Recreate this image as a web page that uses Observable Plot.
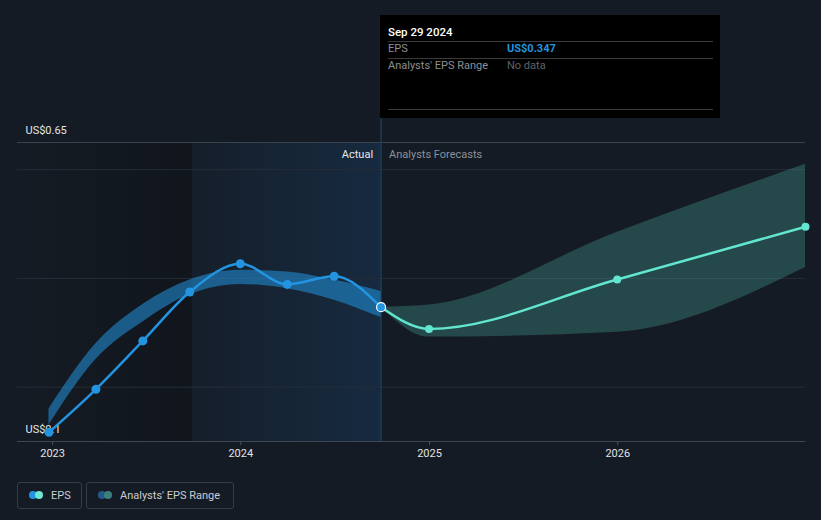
<!DOCTYPE html>
<html>
<head>
<meta charset="utf-8">
<script src="https://cdn.jsdelivr.net/npm/d3@7"></script>
<script src="https://cdn.jsdelivr.net/npm/@observablehq/plot@0.6"></script>
<style>
html,body{margin:0;padding:0;background:#151b24;}
body{width:821px;height:520px;overflow:hidden;font-family:Roboto,"Open Sans",sans-serif;}
#wrap{position:relative;width:821px;height:520px;}
#chart svg{display:block;}
#tip{position:absolute;left:380px;top:15px;width:340px;height:103px;background:#000;font-size:11px;}
#tip .row{position:absolute;left:8px;right:7px;height:14px;line-height:14px;white-space:nowrap;}
#tip .sep{position:absolute;left:8px;right:7px;height:1px;background:#3a3a3a;}
#tip .lab{position:absolute;left:0;color:#8c8f94;}
#tip .val{position:absolute;left:119px;}
.legend{position:absolute;top:482px;height:25px;border:1px solid #353c48;border-radius:3px;font-size:11px;color:#c9ccd1;}
.legend .dot{position:absolute;top:8px;width:8px;height:8px;border-radius:50%;}
.legend .txt{position:absolute;top:0;line-height:25px;white-space:nowrap;}
</style>
</head>
<body>
<div id="wrap">
  <div id="chart"></div>
  <div id="tip"></div>
  <div id="legend"></div>
</div>
<script>
// ---- data ----
const domainStart = "2022-10-25";
const domainEnd = "2026-12-31";
const yDomain = [0.1, 0.65];
const gridValues = [0.2, 0.4, 0.6];
const yLabelValues = [0.65, 0.1];
const yLabelTexts = ["US$0.65", "US$0.1"];
const xTickDates = ["2023-01-01", "2024-01-01", "2025-01-01", "2026-01-01"];

const actualDates = ["2022-12-25","2023-03-26","2023-06-25","2023-09-24","2023-12-31","2024-03-31","2024-06-30","2024-09-29"];
const actualEPS = [0.117, 0.196, 0.285, 0.375, 0.427, 0.389, 0.404, 0.347];
const pastRangeLow = [0.130, 0.251, 0.320, 0.370, 0.389, 0.381, 0.360, 0.328];
const pastRangeHigh = [0.160, 0.280, 0.352, 0.397, 0.415, 0.412, 0.397, 0.376];

const forecastDates = ["2024-09-29","2024-12-31","2025-12-31","2026-12-31"];
const forecastEPS = [0.347, 0.307, 0.398, 0.495];
const forecastLow = [0.347, 0.292, 0.301, 0.420];
const forecastHigh = [0.347, 0.351, 0.485, 0.610];

const tipDate = "Sep 29 2024";
const tipRows = [["EPS", "US$0.347"], ["Analysts' EPS Range", "No data"]];
const legendItems = [["EPS", "#2394df", "#6ee7d0"], ["Analysts' EPS Range", "#1f5a88", "#3d7f7b"]];

// ---- build ----
const parse = d3.utcParse("%Y-%m-%d");
const actual = actualDates.map((d, i) => ({date: parse(d), eps: actualEPS[i], low: pastRangeLow[i], high: pastRangeHigh[i]}));
const forecast = forecastDates.map((d, i) => ({date: parse(d), eps: forecastEPS[i], low: forecastLow[i], high: forecastHigh[i]}));
const lastDate = actual[actual.length - 1].date;
const yearAgo = d3.utcYear.offset(lastDate, -1);
const xDomain = [parse(domainStart), parse(domainEnd)];

const defs = () => {
  const g = d3.create("svg:defs");
  const a = g.append("linearGradient").attr("id", "pastGrad").attr("x1", 0).attr("x2", 1).attr("y1", 0).attr("y2", 0);
  a.append("stop").attr("offset", "0%").attr("stop-color", "#1a5a96").attr("stop-opacity", 0.06);
  a.append("stop").attr("offset", "100%").attr("stop-color", "#1a5a96").attr("stop-opacity", 0.24);
  const b = g.append("linearGradient").attr("id", "oldGrad").attr("x1", 0).attr("x2", 1).attr("y1", 0).attr("y2", 0);
  b.append("stop").attr("offset", "0%").attr("stop-color", "#000").attr("stop-opacity", 0.0);
  b.append("stop").attr("offset", "100%").attr("stop-color", "#000").attr("stop-opacity", 0.2);
  return g.node();
};

const plot = Plot.plot({
  width: 821,
  height: 520,
  marginLeft: 17,
  marginRight: 16,
  marginTop: 142,
  marginBottom: 79,
  style: {background: "#151b24", color: "#dcdcdc", fontFamily: "Roboto, sans-serif", fontSize: "11px"},
  x: {type: "utc", domain: xDomain},
  y: {domain: yDomain, axis: null},
  marks: [
    defs,
    Plot.rect([{x1: xDomain[0], x2: yearAgo}], {x1: "x1", x2: "x2", fill: "url(#oldGrad)"}),
    Plot.rect([{x1: yearAgo, x2: lastDate}], {x1: "x1", x2: "x2", fill: "url(#pastGrad)"}),
    Plot.ruleY(gridValues, {stroke: "#262d38", strokeWidth: 1}),
    Plot.ruleY([yDomain[1]], {stroke: "#3a424d", strokeWidth: 1}),
    Plot.ruleY([yDomain[0]], {stroke: "#3f4651", strokeWidth: 1}),
    Plot.axisX({ticks: xTickDates.map(parse), tickFormat: d3.utcFormat("%Y"), tickSize: 4, tickPadding: 4, stroke: "#4a515c", fill: "#e2e2e2", fontSize: 11}),
    Plot.ruleX([lastDate], {stroke: "#1d4c72", strokeWidth: 1, insetTop: -24}),
    Plot.text(yLabelValues, {y: d => d, text: (d, i) => yLabelTexts[i], frameAnchor: "left", dx: 8, dy: -12, textAnchor: "start", fill: "#e6e6e6", fontSize: 11}),
    Plot.text(["Actual"], {x: () => lastDate, frameAnchor: "top", dy: 8, dx: -8, textAnchor: "end", fill: "#e8e8e8", fontSize: 11}),
    Plot.text(["Analysts Forecasts"], {x: () => lastDate, frameAnchor: "top", dy: 8, dx: 8, textAnchor: "start", fill: "#8b9099", fontSize: 11}),
    Plot.areaY(forecast, {x: "date", y1: "low", y2: "high", fill: "#5ee6d0", fillOpacity: 0.22, curve: "monotone-x"}),
    Plot.areaY(actual, {x: "date", y1: "low", y2: "high", fill: "#2394df", fillOpacity: 0.55, curve: "monotone-x"}),
    Plot.line(forecast, {x: "date", y: "eps", stroke: "#62e6d0", strokeWidth: 2.5, curve: "monotone-x"}),
    Plot.line(actual, {x: "date", y: "eps", stroke: "#2394df", strokeWidth: 2.5, curve: "monotone-x"}),
    Plot.dot(forecast.slice(1), {x: "date", y: "eps", r: 4, fill: "#62e6d0"}),
    Plot.dot(actual.slice(0, -1), {x: "date", y: "eps", r: 4.5, fill: "#2394df"}),
    Plot.dot(actual.slice(-1), {x: "date", y: "eps", r: 4.5, fill: "#2394df", stroke: "#ffffff", strokeWidth: 1.2})
  ]
});
document.getElementById("chart").appendChild(plot);

// tooltip
const tip = d3.select("#tip");
tip.append("div").attr("class", "row").style("top", "9px").style("height", "16px").style("line-height", "16px")
  .style("color", "#fff").style("font-weight", "500").style("font-size", "11.5px").text(tipDate);
const sepTops = [26, 43, 94];
sepTops.forEach(t => tip.append("div").attr("class", "sep").style("top", t + "px"));
const rowTops = [27, 44];
tipRows.forEach((r, i) => {
  const row = tip.append("div").attr("class", "row").style("top", rowTops[i] + "px");
  row.append("span").attr("class", "lab").text(r[0]);
  const v = row.append("span").attr("class", "val").text(r[1]);
  if (i === 0) v.style("color", "#2394df").style("font-weight", "700");
  else v.style("color", "#5f6268");
});

// legend
const legendBoxes = [[17, 63], [86, 146]];
const lg = d3.select("#legend");
legendItems.forEach((item, i) => {
  const box = lg.append("div").attr("class", "legend").style("left", legendBoxes[i][0] + "px").style("width", legendBoxes[i][1] + "px");
  box.append("div").attr("class", "dot").style("left", "11px").style("background", item[1]);
  box.append("div").attr("class", "dot").style("left", "17px").style("background", item[2]);
  box.append("div").attr("class", "txt").style("left", "33px").text(item[0]);
});
</script>
</body>
</html>
